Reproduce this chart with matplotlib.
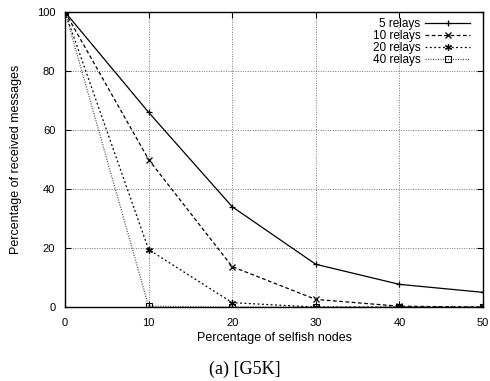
import matplotlib
matplotlib.use("Agg")
from matplotlib import pyplot as plt

# data
selfish = [0, 10, 20, 30, 40, 50]
relays5 = [100, 66, 34, 14.5, 7.7, 5]
relays10 = [100, 50, 13.7, 2.6, 0.3, 0]
relays20 = [100, 19.5, 1.5, 0, 0, 0]
relays40 = [100, 0.3, 0, 0, 0, 0]

plt.rcParams['font.family'] = ['Liberation Sans', 'DejaVu Sans']
plt.rcParams['font.size'] = 8

fig = plt.figure(figsize=(4.9, 3.81), dpi=100)
ax = fig.add_axes([0.1327, 0.194, 0.853, 0.7745])

ax.plot(selfish, relays5, color='black', linestyle='-', lw=0.9,
        marker='+', ms=5, mew=0.9, label='5 relays')
ax.plot(selfish, relays10, color='black', linestyle=(0, (3, 2)), lw=0.9,
        marker='x', ms=4, mew=0.9, label='10 relays')
ax.plot(selfish, relays20, color='black', linestyle=(0, (1.5, 2)), lw=0.9,
        marker=(6, 2, 0), ms=5, mew=0.9, label='20 relays')
ax.plot(selfish, relays40, color='#444444', linestyle=(0, (0.8, 1.2)), lw=0.9,
        marker='s', ms=4, mfc='none', mec='black', mew=0.8, label='40 relays')

ax.set_xlim(0, 50)
ax.set_ylim(0, 100)
ax.set_xticks(selfish)
ax.set_yticks([0, 20, 40, 60, 80, 100])
ax.tick_params(direction='in', length=4, width=0.8, top=True, right=True)
ax.tick_params(axis='x', pad=8)
ax.tick_params(axis='y', pad=7)
ax.grid(True, color='#777777', linestyle=(0, (1, 1.5)), lw=0.7)
for s in ax.spines.values():
    s.set_linewidth(1.0)

ax.set_xlabel('Percentage of selfish nodes', fontsize=9, labelpad=3)
ax.set_ylabel('Percentage of received messages', fontsize=9, labelpad=11)

ax.legend(loc='upper right', bbox_to_anchor=(0.969, 0.978), frameon=False,
          markerfirst=False, handlelength=3.8, labelspacing=0.0, fontsize=8.5,
          borderaxespad=0, borderpad=0, handletextpad=0.4)

fig.text(0.5, 0.03, '(a) [G5K]', ha='center', va='center',
         family='Liberation Serif', fontsize=13)

fig.savefig('out.png', dpi=100)
